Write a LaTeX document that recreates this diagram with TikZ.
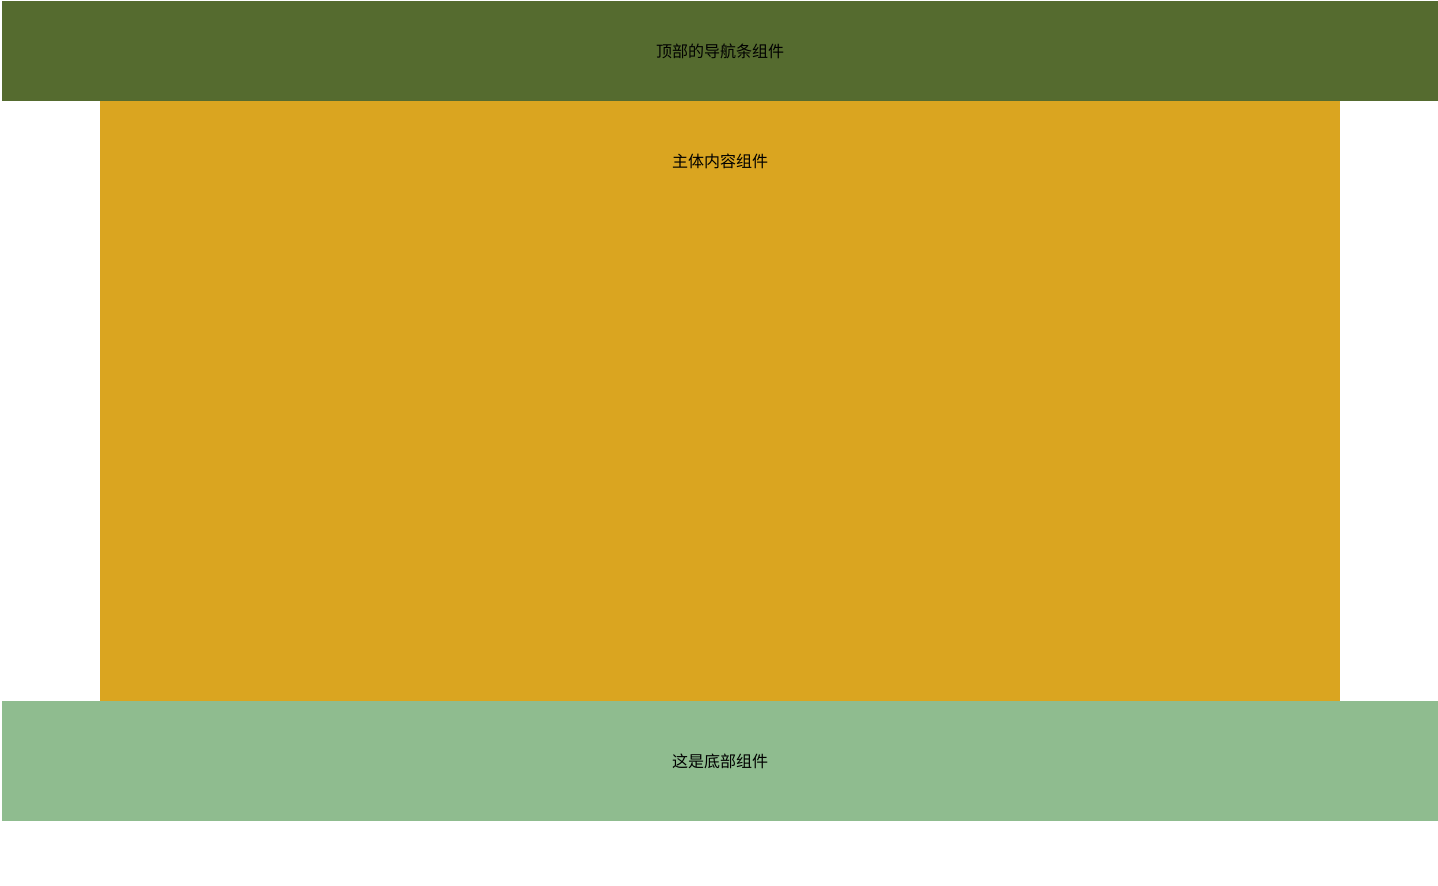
\documentclass[tikz,border=0pt]{standalone}
\usepackage{fontspec}
\newfontfamily\cjk{Noto Sans CJK SC}
\usepackage{tikz}
\usetikzlibrary{positioning}
\definecolor{navgreen}{HTML}{556B2F}
\definecolor{maingold}{HTML}{DAA520}
\definecolor{footgreen}{HTML}{8FBC8F}

\begin{document}
\begin{tikzpicture}[x=1pt,y=-1pt,
    label/.style={font=\cjk\fontsize{16}{20}\selectfont, text=black, inner sep=0pt}]
    \def\w{1438}
    \def\h{886}
    \fill[white] (0,0) rectangle (\w,\h);
    \useasboundingbox (0,0) rectangle (\w,\h);
    % page areas
    \coordinate (nav1) at (2,1);
    \coordinate (nav2) at (\w,101);
    \coordinate (main1) at (100,101);
    \coordinate (main2) at (1340,701);
    \coordinate (foot1) at (2,701);
    \coordinate (foot2) at (\w,821);
    \fill[navgreen] (nav1) rectangle (nav2);
    \fill[maingold] (main1) rectangle (main2);
    \fill[footgreen] (foot1) rectangle (foot2);
    % texts
    \node[label] (navtext) at (720,51) {顶部的导航条组件};
    \node[label] (maintext) at (720,161) {主体内容组件};
    \node[label] (foottext) at (720,761) {这是底部组件};
\end{tikzpicture}
\end{document}
